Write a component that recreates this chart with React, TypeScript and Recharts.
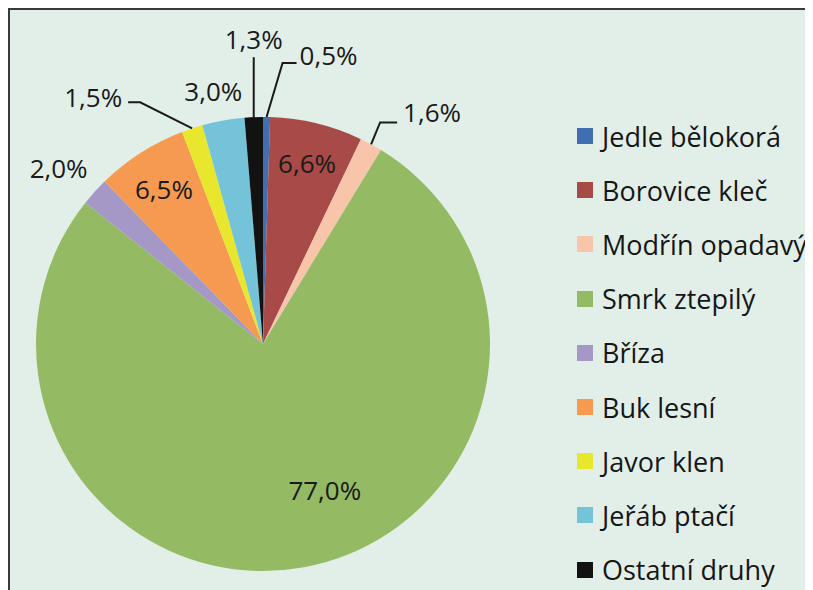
import { PieChart, Pie, Cell, Legend } from "recharts";

const species = [
  "Jedle bělokorá",
  "Borovice kleč",
  "Modřín opadavý",
  "Smrk ztepilý",
  "Bříza",
  "Buk lesní",
  "Javor klen",
  "Jeřáb ptačí",
  "Ostatní druhy",
];
const shares = [0.5, 6.6, 1.6, 77.0, 2.0, 6.5, 1.5, 3.0, 1.3];
const colors = ["#3f6fb0", "#a84a48", "#f8c4aa", "#94bb63", "#a597c6", "#f59a50", "#e9e62e", "#74c3d9", "#121212"];

// label placement: inside = radius factor; outside = offsets from slice edge
type LabelCfg = {
  inside?: boolean;
  r?: number;
  dx: number;
  dy: number;
  anchor?: "start" | "middle" | "end";
  line?: [number, number][];
};
const labelCfg: LabelCfg[] = [
  { dx: 33, dy: -62, anchor: "start", line: [[16, -54], [30, -54]] },
  { inside: true, r: 0.82, dx: 0, dy: 0 },
  { dx: 32, dy: -32, anchor: "start", line: [[9, -22], [26, -22]] },
  { inside: true, r: 0.7, dx: 34, dy: -10 },
  { dx: -36, dy: -24 },
  { inside: true, r: 0.81, dx: 0, dy: 0 },
  { dx: -70, dy: -31, anchor: "end", line: [[-52, -26], [-64, -26]] },
  { dx: -10, dy: -30 },
  { dx: 0, dy: -78, line: [[0, -60]] },
];

const data = species.map((name, i) => ({ name, value: shares[i] }));
const fmt = (v: number) => v.toFixed(1).replace(".", ",") + "%";
const RAD = Math.PI / 180;
const FONT = "'Open Sans', sans-serif";

// the panel runs past the window edges, keep the page from scrolling
if (typeof document !== "undefined") {
  document.documentElement.style.overflow = "hidden";
  document.body.style.overflow = "hidden";
}

function renderLabel(props: any) {
  const { cx, cy, midAngle, outerRadius, index } = props;
  const cfg = labelCfg[index];
  const cos = Math.cos(-midAngle * RAD);
  const sin = Math.sin(-midAngle * RAD);
  const text = fmt(shares[index]);
  if (cfg.inside) {
    const x = cx + outerRadius * (cfg.r || 0.7) * cos + cfg.dx;
    const y = cy + outerRadius * (cfg.r || 0.7) * sin + cfg.dy;
    return (
      <text key={index} x={x} y={y} textAnchor="middle" dominantBaseline="central" fill="#1a1a1a" fontSize={26} fontFamily={FONT}>
        {text}
      </text>
    );
  }
  const ex = cx + outerRadius * cos;
  const ey = cy + outerRadius * sin;
  const pts = [[ex, ey], ...(cfg.line || []).map(([a, b]) => [ex + a, ey + b])];
  return (
    <g key={index}>
      {cfg.line && (
        <polyline points={pts.map((p) => p.join(",")).join(" ")} fill="none" stroke="#1a1a1a" strokeWidth={2} />
      )}
      <text x={ex + cfg.dx} y={ey + cfg.dy} textAnchor={cfg.anchor || "middle"} dominantBaseline="central" fill="#1a1a1a" fontSize={26} fontFamily={FONT}>
        {text}
      </text>
    </g>
  );
}

function renderLegend() {
  return (
    <div style={{ fontFamily: FONT, fontSize: 27, color: "#161616" }}>
      {species.map((s, i) => (
        <div key={s} style={{ height: 54.2, display: "flex", alignItems: "center" }}>
          <span style={{ width: 16, height: 16, background: colors[i], display: "inline-block", marginRight: 9 }} />
          <span style={{ whiteSpace: "nowrap" }}>{s}</span>
        </div>
      ))}
    </div>
  );
}

export default function App() {
  return (
    <div
      style={{
        width: 830,
        height: 600,
        background: "#e2efe9",
        borderLeft: "2px solid #3a3a3a",
        borderTop: "2px solid #3a3a3a",
        boxSizing: "border-box",
        overflow: "hidden",
      }}
    >
      <PieChart width={828} height={598} margin={{ top: 0, right: 0, bottom: 0, left: 0 }}>
        <Pie
          data={data}
          dataKey="value"
          nameKey="name"
          cx={253}
          cy={334}
          outerRadius={227}
          startAngle={90}
          endAngle={-270}
          stroke="none"
          label={renderLabel}
          labelLine={false}
          isAnimationActive={false}
        >
          {data.map((d, i) => (
            <Cell key={d.name} fill={colors[i]} />
          ))}
        </Pie>
        <Legend
          content={renderLegend}
          layout="vertical"
          wrapperStyle={{ position: "absolute", left: 567, top: 99, width: 250 }}
        />
      </PieChart>
    </div>
  );
}
